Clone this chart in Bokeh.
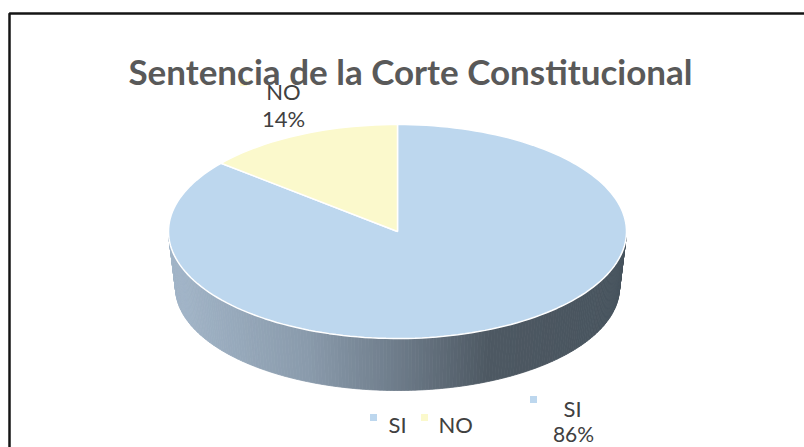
import numpy as np
from bokeh.plotting import figure
from bokeh.models import Range1d, Label
from bokeh.embed import file_html
from bokeh.resources import INLINE

# ---------------- data ----------------
categories = ["SI", "NO"]
values = [86, 14]
colors = ["#BDD7EE", "#FBF9CC"]
title_text = "Sentencia de la Corte Constitucional"

# ---------------- layout ----------------
W, H = 804, 447
X0, X1, Y0, Y1 = 0, 804, 0, 447          # picture-pixel coordinate system
CX, CY, RX, RY = 397, 231, 229, 107      # top face of the pie
BCY, BRX, BRY = 287, 222, 103            # bottom edge of the pie side
FONT = "Lato"
TXT = "#404040"

p = figure(width=W, height=H, output_backend="svg", toolbar_location=None,
           x_range=Range1d(X0, X1), y_range=Range1d(Y1, Y0),
           x_axis_type=None, y_axis_type=None, min_border=0, tools="")
p.grid.visible = False
p.outline_line_color = None
p.background_fill_color = "white"
p.border_fill_color = "white"

# chart-area frame (top and left edges visible)
p.line(x=[9, 9, 810], y=[460, 13, 13], line_color="#151515", line_width=2.5)

# ---------------- side wall with gradient ----------------
stops_t = [0.0, 0.3, 0.5, 0.7, 1.0]
stops_c = [(163, 182, 201), (138, 155, 172), (110, 124, 138), (78, 89, 99), (72, 84, 94)]


def grad(t):
    r = int(np.interp(t, stops_t, [c[0] for c in stops_c]))
    g = int(np.interp(t, stops_t, [c[1] for c in stops_c]))
    b = int(np.interp(t, stops_t, [c[2] for c in stops_c]))
    return "#%02x%02x%02x" % (r, g, b)


N = 200
phis = np.linspace(0, np.pi, N + 1)
sx, sy, sc = [], [], []
for a, b in zip(phis[:-1], phis[1:]):
    xs = [CX + RX * np.cos(a), CX + RX * np.cos(b), CX + BRX * np.cos(b), CX + BRX * np.cos(a)]
    ys = [CY + RY * np.sin(a), CY + RY * np.sin(b), BCY + BRY * np.sin(b), BCY + BRY * np.sin(a)]
    sx.append(xs)
    sy.append(ys)
    xm = CX + RX * np.cos((a + b) / 2)
    sc.append(grad((xm - (CX - RX)) / (2 * RX)))
p.patches(sx, sy, fill_color=sc, line_color=sc, line_width=0.8)

# ---------------- top face slices ----------------
total = float(sum(values))
start = 0.0
wx, wy = [], []
for v in values:
    end = start + v / total * 2 * np.pi
    th = np.linspace(start, end, max(4, int(200 * v / total)))
    wx.append([CX] + list(CX + RX * np.sin(th)))
    wy.append([CY] + list(CY - RY * np.cos(th)))
    start = end
p.patches(wx, wy, fill_color=colors, line_color="white", line_width=1.5)

# ---------------- title ----------------
p.add_layout(Label(x=410, y=70, text=title_text, text_font=FONT, text_font_style="bold",
                   text_font_size="35px", text_color="#595959",
                   text_align="center", text_baseline="alphabetic"))

# ---------------- data labels ----------------
pct = [f"{round(v / total * 100)}%" for v in values]
# NO label (upper left)
p.scatter(x=[243], y=[82], marker="square", size=7, fill_color=colors[1], line_color=None)
p.add_layout(Label(x=283, y=91, text=categories[1], text_font=FONT, text_font_size="22px",
                   text_color=TXT, text_align="center", text_baseline="alphabetic"))
p.add_layout(Label(x=283, y=118, text=pct[1], text_font=FONT, text_font_size="22px",
                   text_color=TXT, text_align="center", text_baseline="alphabetic"))
# SI label (lower right)
p.scatter(x=[533], y=[399], marker="square", size=7, fill_color=colors[0], line_color=None)
p.add_layout(Label(x=572, y=408, text=categories[0], text_font=FONT, text_font_size="22px",
                   text_color=TXT, text_align="center", text_baseline="alphabetic"))
p.add_layout(Label(x=573, y=433, text=pct[0], text_font=FONT, text_font_size="21px",
                   text_color=TXT, text_align="center", text_baseline="alphabetic"))

# ---------------- legend ----------------
leg_mx = [373, 424]
leg_tx = [388, 438]
p.scatter(x=leg_mx, y=[417, 417], marker="square", size=7, fill_color=colors, line_color=None)
for tx, cat in zip(leg_tx, categories):
    p.add_layout(Label(x=tx, y=424, text=cat, text_font=FONT, text_font_size="22px",
                       text_color=TXT, text_align="left", text_baseline="alphabetic"))

open("out.html", "w").write(file_html(p, INLINE))
